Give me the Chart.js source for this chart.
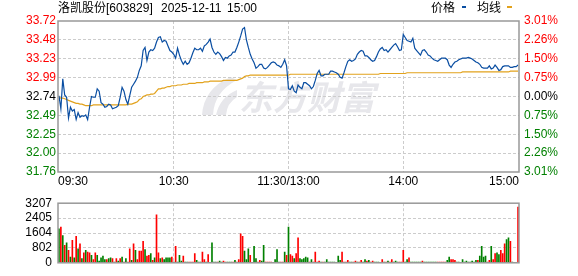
<!DOCTYPE html>
<html><head><meta charset="utf-8">
<script src="https://cdn.jsdelivr.net/npm/chart.js@4.4.1/dist/chart.umd.min.js"></script>
<style>
html,body{margin:0;padding:0;background:#fff;width:578px;height:276px;overflow:hidden;}
canvas{position:absolute;left:0;}
#c1{top:0;} #c2{top:190px;}
</style></head><body>
<canvas id="c1" width="578" height="190"></canvas>
<canvas id="c2" width="578" height="86"></canvas>
<script>
const stockTitle = "洛凯股份[603829]";
const dateText = "2025-12-11";
const timeText = "15:00";
const legendNames = ["价格", "均线"];
const prevClose = 32.74;
const maxDiff = 0.985;
const priceTickLabels = ["33.72","33.48","33.23","32.99","32.74","32.49","32.25","32.00","31.76"];
const pctTickLabels = ["3.01%","2.26%","1.50%","0.75%","0.00%","0.75%","1.50%","2.26%","3.01%"];
const volTickLabels = ["3207","2405","1604","802","0"];
const volMax = 3207;
const timeLabels = ["09:30","10:30","11:30/13:00","14:00","15:00"];
const timeTickIndex = [0,60,120,180,240];

const prices = [
32.75,32.58,32.97,32.76,32.73,32.46,32.60,32.55,32.57,32.44,
32.53,32.47,32.49,32.48,32.50,32.44,32.60,32.74,32.73,32.73,
32.84,32.81,32.66,32.64,32.60,32.61,32.64,32.63,32.58,32.59,
32.60,32.62,32.73,32.86,32.81,32.70,32.64,32.75,32.86,32.90,
32.94,32.99,33.08,33.14,33.34,33.38,33.21,33.32,33.35,33.34,
33.37,33.45,33.51,33.52,33.45,33.47,33.46,33.40,33.34,33.32,
33.29,33.24,33.37,33.28,33.21,33.16,33.20,33.16,33.18,33.24,
33.31,33.37,33.35,33.35,33.37,33.33,33.40,33.42,33.45,33.49,
33.38,33.32,33.29,33.32,33.30,33.26,33.21,33.25,33.24,33.27,
33.28,33.32,33.32,33.38,33.45,33.53,33.62,33.64,33.48,33.38,
33.29,33.23,33.18,33.11,33.13,33.16,33.16,33.11,33.10,33.12,
33.15,33.18,33.19,33.18,33.15,33.14,33.12,33.16,33.22,33.14,
32.84,32.83,32.88,32.81,32.79,32.89,32.86,32.84,32.92,32.92,
32.90,32.88,32.84,32.87,32.95,33.04,33.08,33.01,33.01,33.03,
33.03,33.03,33.07,33.07,33.06,33.05,33.03,32.99,32.98,33.05,
33.13,33.20,33.22,33.20,33.21,33.23,33.29,33.32,33.34,33.33,
33.27,33.27,33.25,33.22,33.20,33.21,33.26,33.32,33.36,33.38,
33.34,33.35,33.32,33.35,33.38,33.41,33.43,33.39,33.34,33.35,
33.55,33.51,33.47,33.46,33.45,33.50,33.37,33.34,33.31,33.28,
33.34,33.35,33.32,33.28,33.27,33.24,33.22,33.21,33.20,33.22,
33.24,33.24,33.24,33.22,33.15,33.12,33.16,33.19,33.20,33.22,
33.23,33.24,33.24,33.24,33.25,33.24,33.23,33.21,33.19,33.18,
33.16,33.12,33.11,33.11,33.11,33.14,33.10,33.11,33.15,33.12,
33.08,33.09,33.13,33.14,33.14,33.14,33.12,33.12,33.13,33.13,
33.15];

const avgPrices = [
32.73,32.72,32.72,32.71,32.70,32.69,32.68,32.67,32.66,32.65,
32.65,32.64,32.64,32.63,32.62,32.62,32.62,32.62,32.63,32.63,
32.63,32.63,32.63,32.63,32.63,32.63,32.63,32.63,32.63,32.63,
32.63,32.63,32.63,32.63,32.63,32.63,32.64,32.64,32.64,32.65,
32.66,32.67,32.70,32.71,32.74,32.75,32.76,32.76,32.77,32.77,
32.78,32.81,32.84,32.84,32.85,32.85,32.86,32.87,32.87,32.88,
32.88,32.88,32.89,32.89,32.89,32.90,32.90,32.90,32.91,32.91,
32.91,32.91,32.92,32.92,32.92,32.92,32.93,32.93,32.93,32.94,
32.94,32.94,32.94,32.94,32.94,32.94,32.95,32.95,32.95,32.95,
32.95,32.95,32.95,32.95,32.96,32.97,32.98,33.00,33.01,33.01,
33.02,33.02,33.02,33.02,33.02,33.02,33.02,33.02,33.02,33.02,
33.02,33.02,33.02,33.02,33.02,33.02,33.02,33.02,33.02,33.02,
33.02,33.03,33.03,33.03,33.03,33.03,33.03,33.03,33.03,33.03,
33.03,33.03,33.03,33.03,33.03,33.03,33.03,33.03,33.03,33.03,
33.03,33.03,33.03,33.03,33.03,33.03,33.03,33.03,33.03,33.03,
33.03,33.03,33.03,33.03,33.03,33.03,33.03,33.03,33.03,33.03,
33.03,33.03,33.03,33.03,33.03,33.03,33.03,33.03,33.04,33.04,
33.04,33.04,33.04,33.04,33.04,33.04,33.04,33.04,33.04,33.04,
33.04,33.04,33.05,33.05,33.05,33.05,33.05,33.05,33.05,33.05,
33.05,33.05,33.05,33.05,33.05,33.05,33.05,33.05,33.05,33.05,
33.05,33.05,33.05,33.05,33.05,33.05,33.05,33.05,33.05,33.05,
33.05,33.06,33.06,33.06,33.06,33.06,33.06,33.06,33.06,33.06,
33.06,33.06,33.06,33.06,33.06,33.06,33.06,33.06,33.06,33.06,
33.06,33.06,33.06,33.06,33.06,33.06,33.07,33.07,33.07,33.07,
33.07];

const volumes = [
1827,1916,1470,936,1069,668,312,1203,267,1426,
757,1025,223,535,668,579,535,401,178,535,
401,89,267,356,178,178,223,267,223,45,
223,89,223,312,45,223,45,757,134,1025,
668,178,624,624,1158,713,356,401,490,134,
267,2584,535,223,267,178,267,267,267,312,
45,891,45,401,89,356,45,45,45,45,
45,490,134,45,45,579,178,45,445,30,
1069,45,45,45,89,45,89,45,45,45,
45,45,134,45,178,1559,1426,624,178,757,
401,30,891,223,45,134,89,936,45,45,
45,45,30,178,713,45,45,45,579,401,
1916,445,356,223,490,1337,223,178,223,312,
267,45,178,45,579,45,89,45,45,45,
178,45,45,45,45,30,356,134,579,45,
45,134,45,45,45,89,45,45,134,45,
178,89,134,45,89,45,45,45,30,178,
45,45,89,45,178,45,89,45,45,45,
668,45,178,267,45,45,45,45,45,45,
89,45,45,45,45,45,45,45,45,45,
45,45,45,134,312,178,178,134,45,45,
30,178,45,89,45,45,89,45,134,134,
356,891,312,356,45,134,891,178,490,535,
445,668,490,1025,1248,1337,1158,45,20,20,
3000];

const volDirections = [
"GRGRGRGRGR","GRGRGRRGRR","GGGGGRGGRG","RGRGRGRRGR","GRRRRGRRGR",
"GRRGRGGGGR","GRGGGRGGRR","RRGGGRRGRG","GGGRGGRRGG","GRGRRRRGGG",
"RRGGRRGGRR","RRGGGGRRGR","GRRGRRGGGG","GRGRRRRGRG","GGGGGGGGRR",
"RRGGRRGRRG","GRGRRGGGRR","GRGRRGGGRR","RGGRGGGGGG","RGGGGGGGRR",
"RRRGGRRRGG","GGGGGGGGGR","GGGGRRGRRG","GRRRGGRGGG","R"].join("").split("");

const UP = '#ff0000', DOWN = '#008000', FLAT = '#000000';
const GRID = '#cccccc', FRAME = '#999999';
const numFont = {family:'"Liberation Sans", Arial, sans-serif', size:12};
const priceTickValues = priceTickLabels.map((_, i) => prevClose + (4 - i) * maxDiff / 4);
const volTickValues = volTickLabels.map((_, i) => volMax * (4 - i) / 4);
const labelColor = i => i < 4 ? UP : (i === 4 ? FLAT : DOWN);

const framePlugin = {
  id: 'frame',
  afterDraw(chart) {
    const {ctx, chartArea: a} = chart;
    ctx.save();
    ctx.strokeStyle = FRAME; ctx.lineWidth = 1.5;
    ctx.strokeRect(a.left, a.top, a.right - a.left, a.bottom - a.top);
    ctx.restore();
  }
};

const pricePlugin = {
  id: 'priceDecor',
  beforeDraw(chart) {
    const ctx = chart.ctx;
    ctx.save();
    ctx.fillStyle = '#e7e7eb';
    ctx.beginPath();
    ctx.moveTo(202,115); ctx.quadraticCurveTo(204,88,231,77); ctx.lineTo(237,80);
    ctx.quadraticCurveTo(214,92,213,115); ctx.closePath(); ctx.fill();
    ctx.beginPath();
    ctx.moveTo(216,115); ctx.quadraticCurveTo(220,97,237,90); ctx.lineTo(237,97);
    ctx.quadraticCurveTo(227,103,226,115); ctx.closePath(); ctx.fill();
    ctx.font = 'italic bold 34px "Noto Sans CJK SC", sans-serif';
    ctx.textBaseline = 'middle'; ctx.textAlign = 'left';
    ctx.fillText('东方财富', 239, 97);
    ctx.restore();
  },
  afterDraw(chart) {
    const {ctx, chartArea: a, scales} = chart;
    const x = scales.x;
    ctx.save();
    ctx.font = '12px "Liberation Sans", "Noto Sans CJK SC", sans-serif';
    ctx.fillStyle = '#000';
    ctx.textBaseline = 'middle';
    timeLabels.forEach((t, i) => {
      let px = x.getPixelForValue(timeTickIndex[i]);
      if (i === 0) { ctx.textAlign = 'left'; px = a.left; }
      else if (i === timeLabels.length - 1) { ctx.textAlign = 'right'; px = a.right; }
      else ctx.textAlign = 'center';
      ctx.fillText(t, px, a.bottom + 10);
    });
    ctx.textAlign = 'left';
    ctx.fillText(stockTitle, 58, 9);
    ctx.fillText(dateText, 161, 9);
    ctx.fillText(timeText, 227, 9);
    ctx.fillText(legendNames[0], 431, 9);
    ctx.fillText(legendNames[1], 477, 9);
    ctx.fillStyle = chart.data.datasets[0].borderColor;
    ctx.fillRect(462, 6, 4, 2);
    ctx.fillStyle = chart.data.datasets[1].borderColor;
    ctx.fillRect(507, 6, 5, 2);
    ctx.restore();
  }
};

const xScale = {
  type: 'linear', min: -0.5, max: 240.5, offset: false,
  ticks: {display: false, autoSkip: false},
  border: {display: false, dash: [3, 2]},
  grid: {color: GRID, lineWidth: 1, drawTicks: false, offset: false, borderDash: [3, 2]},
  afterBuildTicks: s => { s.ticks = timeTickIndex.slice(1, 4).map(v => ({value: v})); },
  afterFit: s => { s.height = 0; }
};

new Chart(document.getElementById('c1'), {
  type: 'line',
  data: {datasets: [
    {label: legendNames[0], data: prices.map((v, i) => ({x: i, y: v})), borderColor: '#0a4ea2', borderWidth: 1.2, pointRadius: 0, tension: 0, yAxisID: 'y', order: 1},
    {label: legendNames[1], data: avgPrices.map((v, i) => ({x: i, y: v})), borderColor: '#e2a21c', borderWidth: 1.2, pointRadius: 0, tension: 0, yAxisID: 'y', order: 2}
  ]},
  options: {
    responsive: false, animation: false, devicePixelRatio: 1,
    layout: {padding: {top: 21, bottom: 18, left: 0, right: 0}},
    plugins: {legend: {display: false}, tooltip: {enabled: false}},
    scales: {
      x: xScale,
      y: {
        position: 'left', min: priceTickValues[8], max: priceTickValues[0],
        afterBuildTicks: s => { s.ticks = priceTickValues.map(v => ({value: v})); },
        ticks: {callback: (v, i) => priceTickLabels[i], color: c => labelColor(c.index), font: numFont, padding: 2, autoSkip: false},
        grid: {color: c => (c.index === 0 || c.index === 8) ? 'rgba(0,0,0,0)' : GRID, drawTicks: false, borderDash: [3, 2]},
        border: {display: false, dash: [3, 2]},
        afterFit: s => { s.width = 58; }
      },
      y2: {
        position: 'right', min: priceTickValues[8], max: priceTickValues[0],
        afterBuildTicks: s => { s.ticks = priceTickValues.map(v => ({value: v})); },
        ticks: {callback: (v, i) => pctTickLabels[i], color: c => labelColor(c.index), font: numFont, padding: 5, autoSkip: false},
        grid: {display: false, drawTicks: false},
        border: {display: false},
        afterFit: s => { s.width = 59; }
      }
    }
  },
  plugins: [pricePlugin, framePlugin]
});

new Chart(document.getElementById('c2'), {
  type: 'bar',
  data: {datasets: [{
    data: volumes.map((v, i) => ({x: i, y: v})),
    backgroundColor: volDirections.map(d => d === 'R' ? UP : DOWN),
    barThickness: 1, borderWidth: 0
  }]},
  options: {
    responsive: false, animation: false, devicePixelRatio: 1,
    layout: {padding: {top: 6, bottom: 6, left: 0, right: 59}},
    plugins: {legend: {display: false}, tooltip: {enabled: false}},
    scales: {
      x: xScale,
      y: {
        position: 'left', min: 0, max: volMax,
        afterBuildTicks: s => { s.ticks = volTickValues.map(v => ({value: v})); },
        ticks: {callback: (v, i) => volTickLabels[i], color: '#000', font: numFont, padding: 6, autoSkip: false},
        grid: {color: c => (c.index === 0 || c.index === 4) ? 'rgba(0,0,0,0)' : GRID, drawTicks: false, borderDash: [3, 2]},
        border: {display: false, dash: [3, 2]},
        afterFit: s => { s.width = 58; }
      }
    }
  },
  plugins: [framePlugin]
});
</script>
</body></html>
